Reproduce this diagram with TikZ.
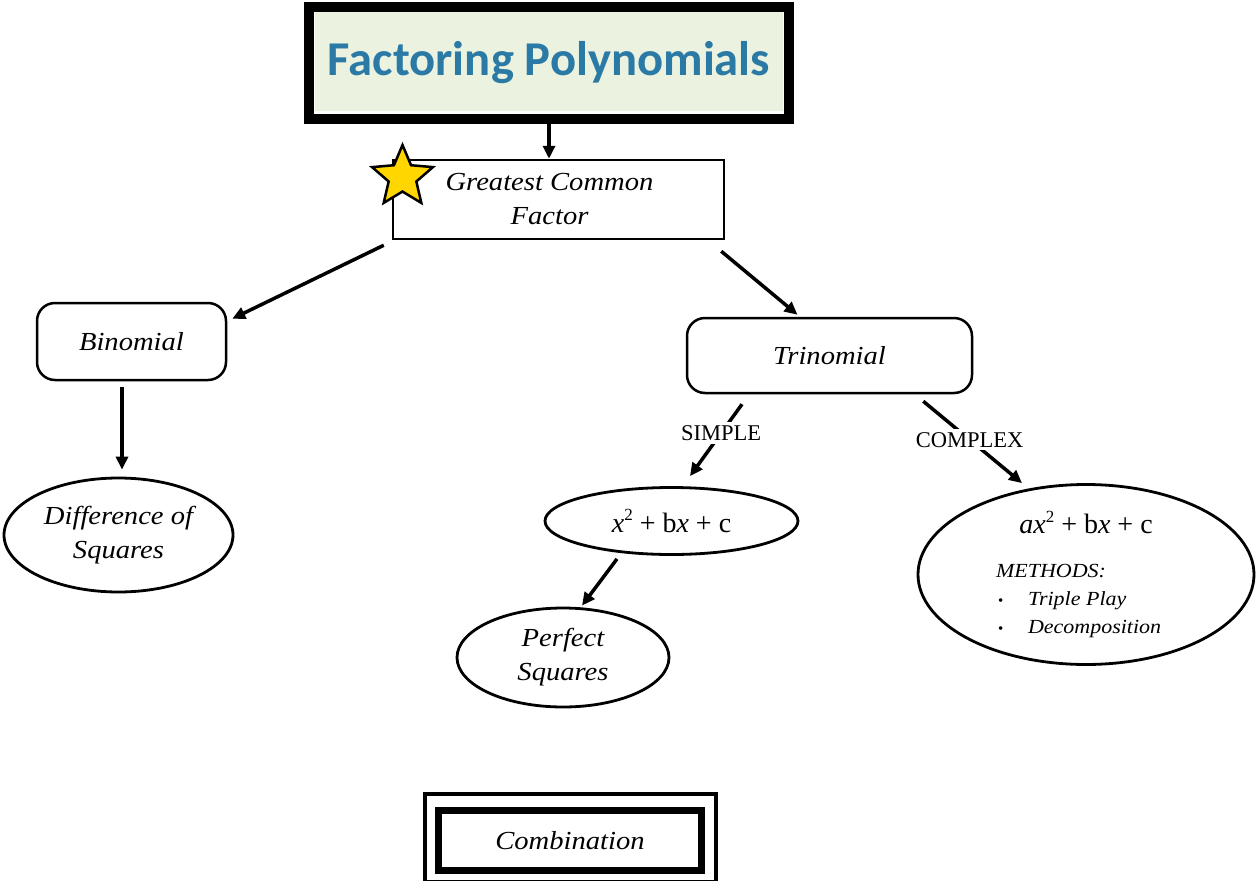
\documentclass[tikz,border=0pt]{standalone}
\usepackage{fontspec}
\usetikzlibrary{arrows.meta,shapes.geometric}
\newfontfamily\titlefont{Carlito}
\newfontfamily\timesfont{Liberation Serif}
\newfontfamily\handfont[FakeStretch=1.1]{Liberation Serif}
\definecolor{titleblue}{RGB}{43,122,166}
\definecolor{titlebg}{RGB}{235,243,224}
\definecolor{stargold}{RGB}{255,214,0}
\newcommand{\sqr}{\raisebox{0.42em}{\fontsize{17}{17}\selectfont 2}}

\begin{document}
\begin{tikzpicture}[x=1pt,y=-1pt,>={Triangle[length=13pt,width=12pt]},
    arr/.style={->,line width=3.5pt},
    script/.style={font=\handfont\itshape\fontsize{26}{34}\selectfont,align=center},
    plainbox/.style={draw,line width=2.5pt,rectangle,inner sep=0pt},
    roundbox/.style={plainbox,rounded corners=18pt},
    oval/.style={draw,line width=2.8pt,ellipse,inner sep=0pt},
    branch/.style={fill=white,inner sep=3pt,font=\timesfont\fontsize{22.5}{26}\selectfont}]
  \useasboundingbox (0,0) rectangle (1259,881);

  % title and first level
  \node[plainbox,line width=10pt,fill=white,minimum width=480,minimum height=112,
        path picture={\fill[titlebg] ([shift={(6,5)}]path picture bounding box.north west)
          rectangle ([shift={(-6,-8)}]path picture bounding box.south east);}]
        (title) at (549,63) {\titlefont\bfseries\fontsize{48.6}{56}\selectfont\color{titleblue}Factoring Polynomials};
  \node[plainbox,script,minimum width=331,minimum height=79] (gcf) at (558.5,199.5)
        {Greatest Common\hspace*{18pt}\\Factor\hspace*{18pt}};
  \node[star,star points=5,star point ratio=2.2,minimum size=64,inner sep=0pt,
        draw,line width=2.5pt,fill=stargold] (star) at (402.5,177) {};

  % second level
  \node[roundbox,script,minimum width=189,minimum height=77] (bin) at (131.5,341.5) {Binomial};
  \node[roundbox,script,minimum width=285,minimum height=75] (trin) at (829.5,355.5) {Trinomial};

  % leaves
  \node[oval,script,minimum width=229,minimum height=114] (diff) at (118.5,535) {Difference of\\Squares};
  \node[oval,minimum width=253,minimum height=67] (quad) at (671.5,521)
        {\timesfont\fontsize{28}{30}\selectfont\textit{x}\sqr{} + b\textit{x} + c};
  \node[oval,script,minimum width=212,minimum height=99] (perf) at (563,657.5) {Perfect\\Squares};
  \node[oval,minimum width=336,minimum height=179,align=center,font=\fontsize{20}{28}\selectfont] (gen) at (1086,574.5)
        {{\timesfont\fontsize{28}{30}\selectfont\textit{ax}\sqr{} + b\textit{x} + c}\\[16pt]
         \makebox[180pt][l]{\handfont\itshape METHODS:}\\
         \makebox[180pt][l]{\makebox[32pt][l]{\hspace{2pt}\timesfont\fontsize{15}{18}\selectfont\textbullet}\handfont\itshape Triple Play}\\
         \makebox[180pt][l]{\makebox[32pt][l]{\hspace{2pt}\timesfont\fontsize{15}{18}\selectfont\textbullet}\handfont\itshape Decomposition}};

  % combination box
  \node[plainbox,line width=7pt,script,minimum width=263,minimum height=60.5] (comb) at (570,840.25) {Combination};
  \draw[line width=4pt] ([shift={(-10.5,-13)}]comb.north west) rectangle ([shift={(10.5,7.5)}]comb.south east);

  % connectors
  \draw[arr] (title.south) -- (title.south |- gcf.north);
  \draw[arr] ([shift={(-8,5)}]gcf.south west) -- ([shift={(5,17)}]bin.north east);
  \draw[arr] ([shift={(-9.5,6)}]bin.south) -- ([shift={(3.5,-7)}]diff.north);
  \draw[arr] ([shift={(-4,11)}]gcf.south east) -- ([shift={(-32,-2)}]trin.north);
  \draw[arr] ([shift={(-87.5,10)}]trin.south) -- node[branch,pos=0.4] (simple) {SIMPLE} ([shift={(18.5,-10)}]quad.north);
  \draw[arr] ([shift={(-50,7)}]trin.south east) -- node[branch,pos=0.47] (complex) {COMPLEX} ([shift={(-64,0)}]gen.north);
  \draw[arr] ([shift={(-54.5,3)}]quad.south) -- ([shift={(19,-1)}]perf.north);
\end{tikzpicture}
\end{document}
